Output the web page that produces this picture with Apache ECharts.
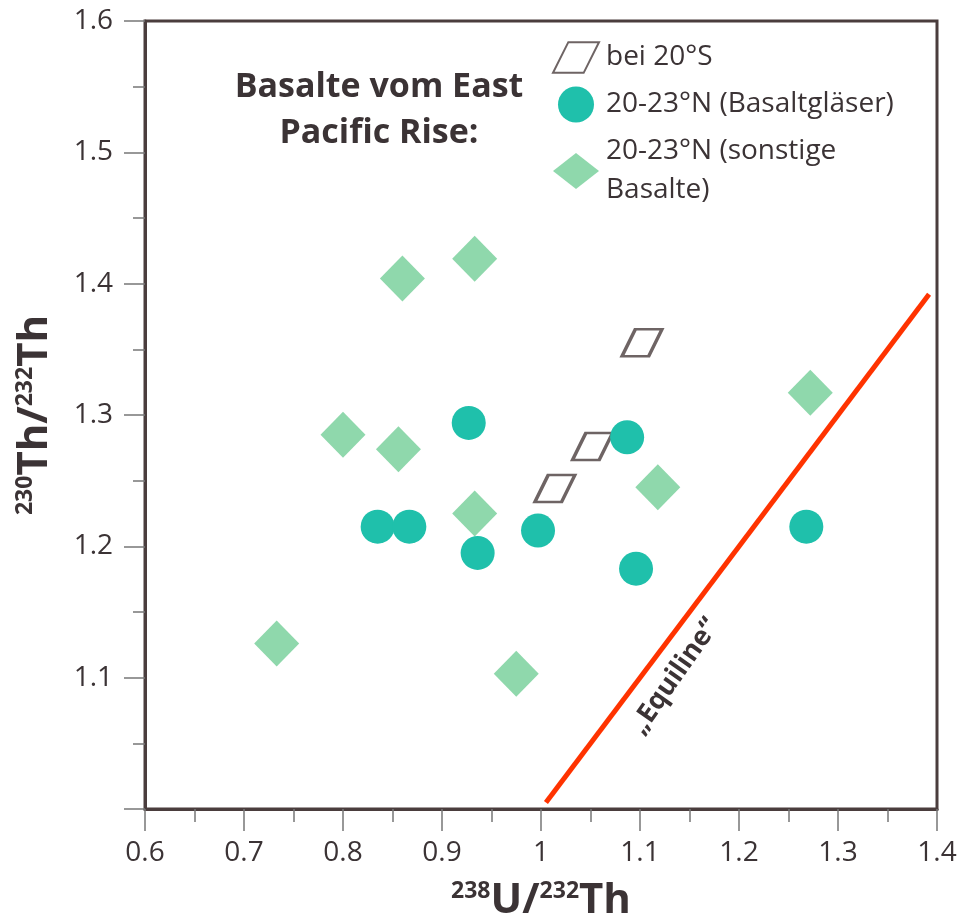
<!DOCTYPE html>
<html>
<head>
<meta charset="utf-8">
<script src="https://cdn.jsdelivr.net/npm/echarts@6/dist/echarts.min.js"></script>
<style>
  html, body { margin: 0; padding: 0; background: #fff; }
  #main { width: 965px; height: 924px; }
</style>
</head>
<body>
<div id="main"></div>
<script>
// data: [238U/232Th, 230Th/232Th]
var south20 = [[1.014, 1.244], [1.052, 1.276], [1.102, 1.355]];
var glasses = [[0.835, 1.215], [0.867, 1.215], [0.927, 1.294], [0.936, 1.195],
               [0.997, 1.212], [1.087, 1.283], [1.096, 1.183], [1.268, 1.215]];
var otherBasalts = [[0.733, 1.126], [0.800, 1.285], [0.856, 1.274], [0.860, 1.404],
                    [0.933, 1.419], [0.933, 1.225], [0.975, 1.103], [1.118, 1.245],
                    [1.272, 1.317]];
var equiline = [[1.005, 1.005], [1.392, 1.392]];
var seriesNames = ['bei 20°S', '20-23°N (Basaltgläser)', '20-23°N (sonstige\nBasalte)'];

var textColor = '#3b3335';
var frameColor = '#4a3d3d';
var parallelogram = 'path://M14,0 L42,0 L28,28 L0,28 Z';

var chart = echarts.init(document.getElementById('main'));

var nameRich = {
  sup: { fontSize: 23, fontWeight: 'bold', color: textColor, verticalAlign: 'top', padding: [0, 0, 20, 0] },
  b: { fontSize: 42, fontWeight: 'bold', color: textColor }
};

chart.setOption({
  backgroundColor: '#fff',
  textStyle: { fontFamily: 'Open Sans' },
  grid: {
    left: 145, right: 28, top: 21, bottom: 115,
    outerBoundsMode: 'none',
    show: true, borderColor: frameColor, borderWidth: 3, backgroundColor: '#fff'
  },
  title: {
    text: 'Basalte vom East\nPacific Rise:',
    left: 374, top: 59, textAlign: 'center',
    textStyle: { fontSize: 34, fontWeight: 'bold', color: textColor, lineHeight: 46, fontFamily: 'Open Sans' }
  },
  legend: {
    orient: 'vertical',
    left: 547, top: 33,
    itemWidth: 46, itemHeight: 36, itemGap: 8,
    data: [
      { name: seriesNames[0], icon: parallelogram,
        itemStyle: { color: '#fff', borderColor: frameColor, borderWidth: 2 } },
      { name: seriesNames[1], icon: 'circle' },
      { name: seriesNames[2], icon: 'diamond' }
    ],
    textStyle: { fontSize: 28, color: textColor, lineHeight: 39, fontFamily: 'Open Sans', padding: [0, 0, 0, 2] },
    selectedMode: false
  },
  xAxis: {
    type: 'value', min: 0.6, max: 1.4, interval: 0.1,
    name: '{sup|238}{b|U/}{sup|232}{b|Th}',
    nameLocation: 'middle', nameGap: 71,
    nameTextStyle: { rich: nameRich },
    axisLine: { lineStyle: { color: frameColor, width: 3 } },
    axisTick: { show: true, length: 22, lineStyle: { color: '#777', width: 1.5 } },
    minorTick: { show: true, splitNumber: 2, length: 13, lineStyle: { color: '#777', width: 1.5 } },
    axisLabel: { fontSize: 28, color: textColor, margin: 30 },
    splitLine: { show: false }
  },
  yAxis: {
    type: 'value', min: 1.0, max: 1.6, interval: 0.1,
    name: '{sup|230}{b|Th/}{sup|232}{b|Th}',
    nameLocation: 'middle', nameGap: 88, nameRotate: 90,
    nameTextStyle: { rich: nameRich },
    axisLine: { lineStyle: { color: frameColor, width: 3 } },
    axisTick: { show: true, length: 21, lineStyle: { color: '#777', width: 1.5 } },
    minorTick: { show: true, splitNumber: 2, length: 12, lineStyle: { color: '#777', width: 1.5 } },
    axisLabel: { fontSize: 28, color: textColor, margin: 32, showMinLabel: false,
      formatter: function (v) { return v.toFixed(1); } },
    splitLine: { show: false }
  },
  series: [
    {
      name: 'Equiline', type: 'line', data: equiline,
      symbol: 'none', silent: true, z: 1,
      lineStyle: { color: '#ff3300', width: 5 },
      markPoint: {
        symbol: 'rect', symbolSize: 1, silent: true,
        itemStyle: { color: 'transparent' },
        label: {
          show: true, formatter: '„Equiline“', rotate: 55,
          fontSize: 27, fontWeight: 'bold', color: textColor, fontFamily: 'Open Sans'
        },
        data: [{ coord: [1.135, 1.101] }]
      }
    },
    {
      name: seriesNames[0], type: 'scatter', data: south20,
      symbol: parallelogram, symbolSize: [40, 27], z: 3,
      itemStyle: { color: '#fff', borderColor: frameColor, borderWidth: 3 }
    },
    {
      name: seriesNames[1], type: 'scatter', data: glasses,
      symbol: 'circle', symbolSize: 34, z: 3,
      itemStyle: { color: '#1fc0ab', opacity: 1 }
    },
    {
      name: seriesNames[2], type: 'scatter', data: otherBasalts,
      symbol: 'diamond', symbolSize: [45, 46], z: 2,
      itemStyle: { color: '#8fd8ac', opacity: 1 }
    }
  ]
});
</script>
</body>
</html>
